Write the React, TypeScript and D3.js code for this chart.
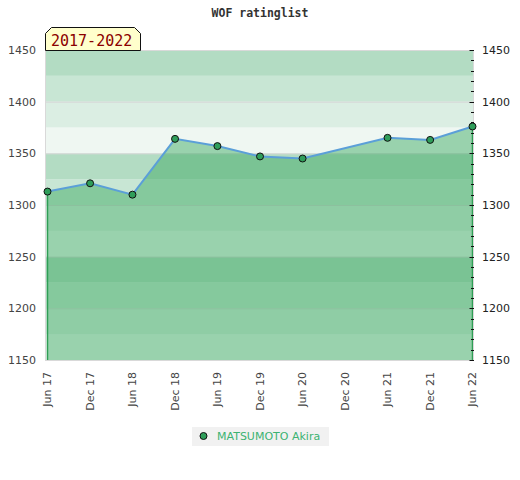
import * as React from "react";
import * as d3 from "d3";

// chart data
const dates = [
  "2017-06-01", "2017-12-01", "2018-06-01", "2018-12-01", "2019-06-01",
  "2019-12-01", "2020-06-01", "2021-06-01", "2021-12-01", "2022-06-01",
];
const ratings = [1313, 1321, 1310, 1364, 1357, 1347, 1345, 1365, 1363, 1376];
const tickDates = [
  "2017-06-01", "2017-12-01", "2018-06-01", "2018-12-01", "2019-06-01", "2019-12-01",
  "2020-06-01", "2020-12-01", "2021-06-01", "2021-12-01", "2022-06-01",
];
const yTicks = [1150, 1200, 1250, 1300, 1350, 1400, 1450];
const playerName = "MATSUMOTO Akira";
const periodLabel = "2017-2022";
const title = "WOF ratinglist";
const bandColors = ["#b3dcc3", "#c8e6d4", "#dbeee3", "#eff7f2"];

const W = 520;
const H = 480;
const plot = { left: 45, right: 474, top: 50, bottom: 360 };

export default function App() {
  const svgRef = React.useRef<SVGSVGElement>(null);

  React.useEffect(() => {
    const svg = d3.select(svgRef.current);
    svg.selectAll("*").remove();

    const parse = (s: string) => new Date(s + "T00:00:00");
    const data = dates.map((d, i) => ({ date: parse(d), value: ratings[i] }));

    const x = d3
      .scaleTime()
      .domain([parse(tickDates[0]), parse(tickDates[tickDates.length - 1])])
      .range([47.5, 472.5]);
    const y = d3.scaleLinear().domain([1150, 1450]).range([plot.bottom, plot.top]);

    // title
    svg
      .append("text")
      .attr("x", W / 2)
      .attr("y", 17)
      .attr("text-anchor", "middle")
      .attr("font-family", "DejaVu Sans Mono")
      .attr("font-weight", "bold")
      .attr("font-size", "11.5px")
      .attr("fill", "#333")
      .text(title);

    // background bands, 25 points each
    const bands = d3.range(1150, 1450, 25);
    svg
      .append("g")
      .selectAll("rect")
      .data(bands)
      .enter()
      .append("rect")
      .attr("x", plot.left)
      .attr("width", plot.right - plot.left)
      .attr("y", (d) => y(d + 25))
      .attr("height", (d) => y(d) - y(d + 25))
      .attr("fill", (d) => bandColors[3 - (((d - 1150) / 25) % 4)]);

    // faint grid lines
    svg
      .append("g")
      .selectAll("line")
      .data(yTicks)
      .enter()
      .append("line")
      .attr("x1", plot.left)
      .attr("x2", plot.right)
      .attr("y1", (d) => y(d) + 0.5)
      .attr("y2", (d) => y(d) + 0.5)
      .attr("stroke", "#d6d6d6")
      .attr("stroke-width", 1);

    // area under the rating line
    const area = d3
      .area<{ date: Date; value: number }>()
      .x((d) => x(d.date))
      .y0(y(1150))
      .y1((d) => y(d.value));
    svg
      .append("path")
      .datum(data)
      .attr("d", area)
      .attr("fill", "rgba(57,168,96,0.47)");

    // green edges at both ends
    [data[0], data[data.length - 1]].forEach((d) => {
      svg
        .append("line")
        .attr("x1", x(d.date))
        .attr("x2", x(d.date))
        .attr("y1", y(d.value))
        .attr("y2", y(1150))
        .attr("stroke", "#2f9e55")
        .attr("stroke-width", 1.5);
    });

    // plot frame (left, top, bottom, right)
    svg
      .append("rect")
      .attr("x", plot.left + 0.5)
      .attr("y", plot.top + 0.5)
      .attr("width", plot.right - plot.left - 1)
      .attr("height", plot.bottom - plot.top)
      .attr("fill", "none")
      .attr("stroke", "#d9d9d9");

    // rating line
    const line = d3
      .line<{ date: Date; value: number }>()
      .x((d) => x(d.date))
      .y((d) => y(d.value));
    svg
      .append("path")
      .datum(data)
      .attr("d", line)
      .attr("fill", "none")
      .attr("stroke", "#5b9fd8")
      .attr("stroke-width", 2);

    // markers
    svg
      .append("g")
      .selectAll("circle")
      .data(data)
      .enter()
      .append("circle")
      .attr("cx", (d) => x(d.date))
      .attr("cy", (d) => y(d.value))
      .attr("r", 3.5)
      .attr("fill", "#2f9e5a")
      .attr("stroke", "#111")
      .attr("stroke-width", 1);

    // left axis labels
    svg
      .append("g")
      .selectAll("text")
      .data(yTicks)
      .enter()
      .append("text")
      .attr("x", 36)
      .attr("y", (d) => y(d))
      .attr("dy", "0.35em")
      .attr("text-anchor", "end")
      .attr("font-family", "DejaVu Sans")
      .attr("font-size", "11px")
      .attr("fill", "#444")
      .text((d) => d);

    // right axis ticks + labels
    const minor = d3.range(1150, 1451, 10);
    svg
      .append("g")
      .selectAll("line")
      .data(minor)
      .enter()
      .append("line")
      .attr("x1", (d) => (d % 50 === 0 ? 469.5 : 471))
      .attr("x2", 474)
      .attr("y1", (d) => Math.round(y(d)) + 0.5)
      .attr("y2", (d) => Math.round(y(d)) + 0.5)
      .attr("stroke", "#111")
      .attr("stroke-width", 1);
    svg
      .append("g")
      .selectAll("text")
      .data(yTicks)
      .enter()
      .append("text")
      .attr("x", 482)
      .attr("y", (d) => y(d))
      .attr("dy", "0.35em")
      .attr("font-family", "DejaVu Sans")
      .attr("font-size", "11px")
      .attr("fill", "#222")
      .text((d) => d);

    // bottom axis labels, rotated
    const fmt = d3.timeFormat("%b %y");
    svg
      .append("g")
      .selectAll("text")
      .data(tickDates.map(parse))
      .enter()
      .append("text")
      .attr("transform", (d) => `translate(${x(d)},372) rotate(-90)`)
      .attr("dy", "0.35em")
      .attr("text-anchor", "end")
      .attr("font-family", "DejaVu Sans")
      .attr("font-size", "11px")
      .attr("fill", "#444")
      .text((d) => fmt(d));

    // period tag at top left
    svg
      .append("path")
      .attr("d", "M45.5,50.5 V33.5 L51.5,27.5 H134.5 L140.5,33.5 V50.5 Z")
      .attr("fill", "#ffffcc")
      .attr("stroke", "#111")
      .attr("stroke-width", 1);
    svg
      .append("text")
      .attr("x", 51)
      .attr("y", 46)
      .attr("font-family", "DejaVu Sans Mono")
      .attr("font-size", "15px")
      .attr("fill", "#8b0000")
      .text(periodLabel);

    // legend
    svg
      .append("rect")
      .attr("x", 192)
      .attr("y", 427)
      .attr("width", 137)
      .attr("height", 19)
      .attr("fill", "#f1f1f1");
    svg
      .append("circle")
      .attr("cx", 203.5)
      .attr("cy", 436)
      .attr("r", 3.5)
      .attr("fill", "#2f9e5a")
      .attr("stroke", "#111");
    svg
      .append("text")
      .attr("x", 217)
      .attr("y", 440)
      .attr("font-family", "DejaVu Sans")
      .attr("font-size", "11px")
      .attr("fill", "#3cb371")
      .text(playerName);
  }, []);

  return (
    <div style={{ position: "absolute", left: 0, top: 0 }}>
      <svg ref={svgRef} width={W} height={H} style={{ display: "block", background: "#fff" }} />
    </div>
  );
}
